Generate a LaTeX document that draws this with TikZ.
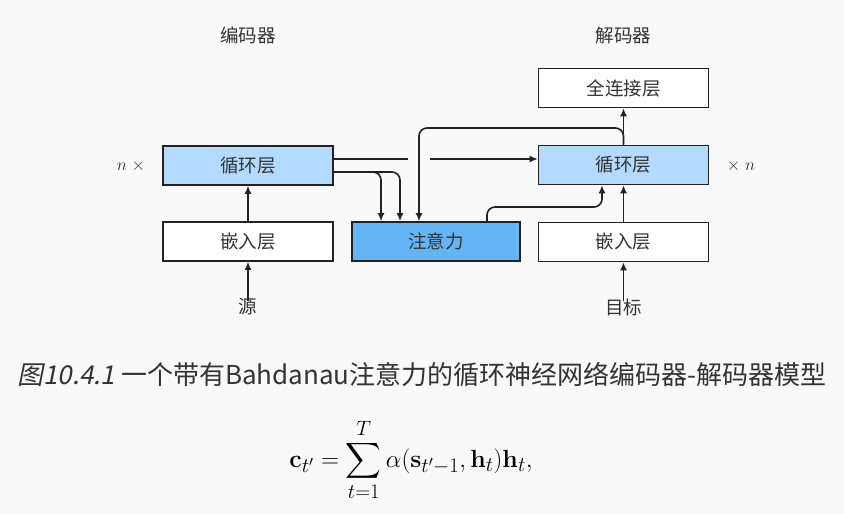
\documentclass[tikz,border=0pt]{standalone}
\usepackage{amsmath}
\usepackage[no-math]{fontspec}
\setmainfont{Noto Sans CJK SC}
\newfontfamily\capit[FakeSlant=0.2]{Noto Sans CJK SC}
\usetikzlibrary{arrows.meta}
\definecolor{bg}{HTML}{F9F9F9}
\definecolor{lb}{HTML}{B3DAFF}
\definecolor{db}{HTML}{64B5F6}
\definecolor{txt}{HTML}{333333}
\definecolor{ln}{HTML}{222222}
\begin{document}
\begin{tikzpicture}[x=1pt,y=-1pt,
 box/.style={draw=ln, line width=1.6pt, minimum width=170pt, minimum height=39pt, inner sep=0pt, text=txt, font=\fontsize{18.5}{18.5}\selectfont},
 lbl/.style={text=txt, font=\fontsize{18.5}{18.5}\selectfont},
 conn/.style={draw=ln, line width=1.6pt, rounded corners=8pt},
 arr/.style={conn, -{Latex[length=8pt,width=7pt]}}]
\fill[bg] (0,0) rectangle (844,514);
\useasboundingbox (0,0) rectangle (844,514);
% boxes
\node[box, fill=lb] (encR) at (248,165.5) {循环层};
\node[box, fill=white] (encE) at (248,241.5) {嵌入层};
\node[box, fill=db, minimum width=168pt] (attn) at (436,241.5) {注意力};
\node[box, fill=lb] (decR) at (623.5,165) {循环层};
\node[box, fill=white] (decE) at (623.5,242) {嵌入层};
\node[box, fill=white] (fc) at (623.5,88) {全连接层};
% labels
\node[lbl] (encT) at (248,35) {编码器};
\node[lbl] (decT) at (623.5,35) {解码器};
\node[lbl] (src) at (248,307) {源};
\node[lbl] (tgt) at (623.5,307) {目标};
\node[lbl, font=\fontsize{17}{17}\selectfont] (nL) at (131,166) {$n\;\times$};
\node[lbl, font=\fontsize{17}{17}\selectfont] (nR) at (741,166) {$\times\; n$};
% connectors
\coordinate (gapL) at (408,159);
\coordinate (gapR) at (430,159);
\draw[conn] ([yshift=6.5pt]encR.east) -- (gapL);
\draw[arr] (gapR) -- (decR.west |- gapR);
\draw[arr] ([yshift=-6.5pt]encR.east) -| ([xshift=-55pt]attn.north);
\draw[arr] ([yshift=-6.5pt]encR.east) -| ([xshift=-36pt]attn.north);
\coordinate (loopTop) at (419,128);
\draw[arr] (decR.north) |- (loopTop) -- ([xshift=-17pt]attn.north);
\coordinate (ctx) at (602,207);
\draw[arr] ([xshift=51pt]attn.north) |- (ctx) -- (decR.south -| ctx);
\draw[arr] (decR.north) -- (fc.south);
\draw[arr] (encE.north) -- (encR.south);
\draw[arr] (decE.north) -- (decR.south);
\draw[arr, shorten <=-6pt] (src.north) -- (encE.south);
\draw[arr, shorten <=-6pt] (tgt.north) -- (decE.south);
% caption and formula
\node[text=txt, font=\fontsize{26}{26}\selectfont] (cap) at (422,375) {{\capit 图10.4.1} 一个带有Bahdanau注意力的循环神经网络编码器-解码器模型};
\node[text=black, font=\fontsize{27.5}{27.5}\selectfont] (eq) at (411,460) {$\displaystyle \mathbf{c}_{t'} = \sum_{t=1}^{T} \alpha(\mathbf{s}_{t'-1}, \mathbf{h}_t)\mathbf{h}_t,$};
\end{tikzpicture}
\end{document}
